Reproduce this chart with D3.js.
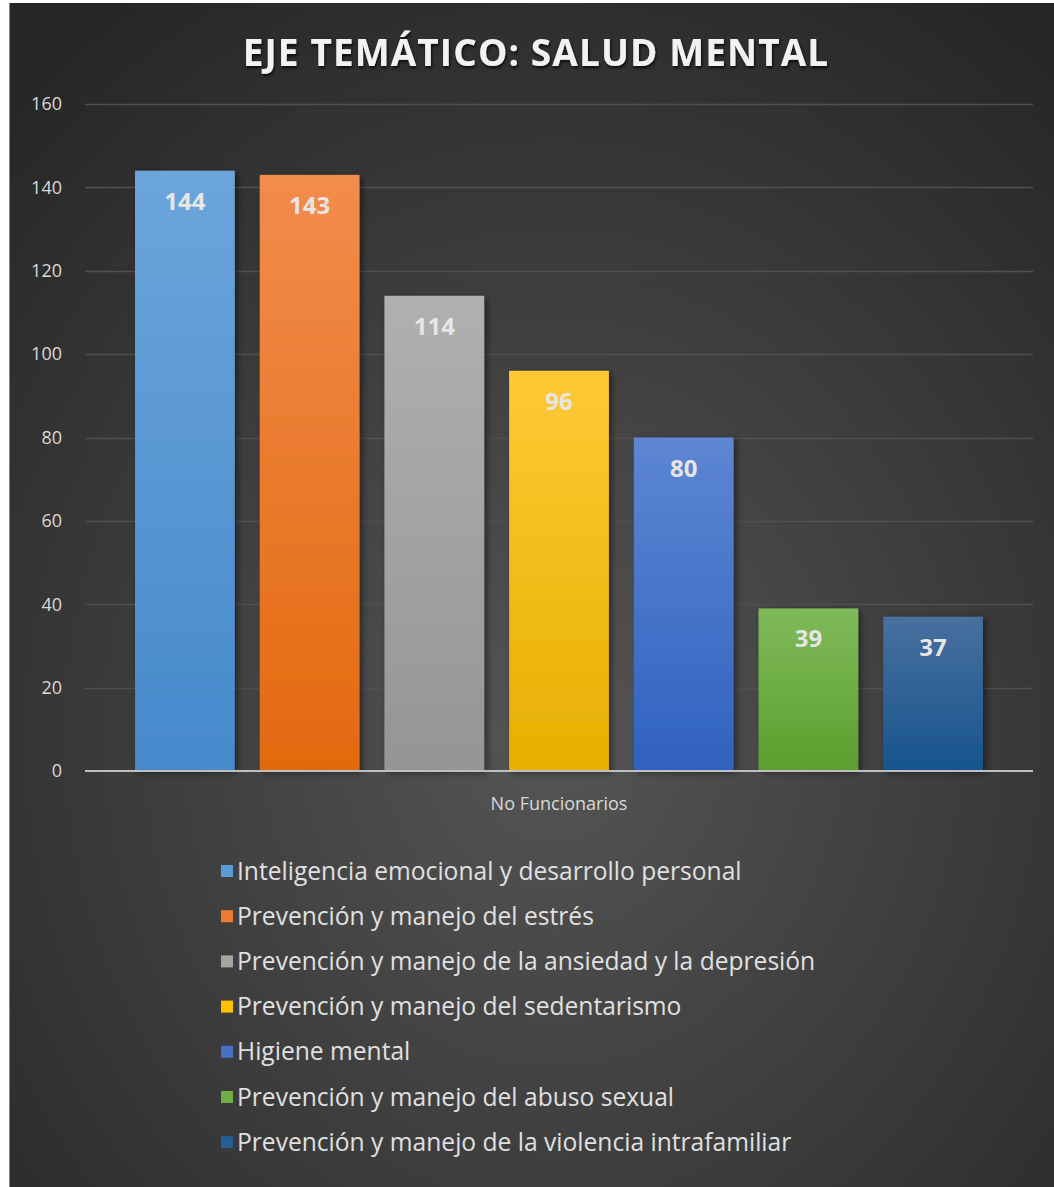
<!DOCTYPE html>
<html>
<head>
<meta charset="utf-8">
<script src="https://cdn.jsdelivr.net/npm/d3@7"></script>
<style>
  html, body { margin: 0; padding: 0; background: #ffffff; }
  svg { display: block; }
</style>
</head>
<body>
<div id="chart"></div>
<script>
// Datos del gráfico
const titulo = "EJE TEMÁTICO: SALUD MENTAL";
const categorias = ["No Funcionarios"];
const series = [
  "Inteligencia emocional y desarrollo personal",
  "Prevención y manejo del estrés",
  "Prevención y manejo de la ansiedad y la depresión",
  "Prevención y manejo del sedentarismo",
  "Higiene mental",
  "Prevención y manejo del abuso sexual",
  "Prevención y manejo de la violencia intrafamiliar"
];
const valores = [144, 143, 114, 96, 80, 39, 37];
const ticksY = [0, 20, 40, 60, 80, 100, 120, 140, 160];

// Colores (claro arriba, oscuro abajo)
const coloresTop = ["#6ca5dc", "#f28c4c", "#b0b0b0", "#ffc936", "#5d86d3", "#80ba5a", "#48709e"];
const coloresBot = ["#4689cb", "#e3690f", "#959595", "#e6b000", "#2f62c0", "#5c9e2e", "#17548e"];
const coloresLeyenda = ["#5b9bd5", "#ed7d31", "#a5a5a5", "#ffc000", "#4472c4", "#70ad47", "#255e91"];

const width = 1054, height = 1187;
const fuente = "'Open Sans', 'Noto Sans', sans-serif";

const svg = d3.select("#chart").append("svg")
  .attr("width", width)
  .attr("height", height);

const defs = svg.append("defs");

// Fondo con degradado radial
const bg = defs.append("radialGradient")
  .attr("id", "bg")
  .attr("cx", "52%").attr("cy", "62%").attr("r", "75%");
bg.append("stop").attr("offset", "0%").attr("stop-color", "#555555");
bg.append("stop").attr("offset", "100%").attr("stop-color", "#262626");

valores.forEach((v, i) => {
  const g = defs.append("linearGradient")
    .attr("id", "grad" + i)
    .attr("x1", 0).attr("y1", 0).attr("x2", 0).attr("y2", 1);
  g.append("stop").attr("offset", "0%").attr("stop-color", coloresTop[i]);
  g.append("stop").attr("offset", "100%").attr("stop-color", coloresBot[i]);
});

const sombra = defs.append("filter").attr("id", "sombra")
  .attr("x", "-20%").attr("y", "-20%").attr("width", "140%").attr("height", "140%");
sombra.append("feDropShadow")
  .attr("dx", 3).attr("dy", 2).attr("stdDeviation", 3)
  .attr("flood-color", "#000").attr("flood-opacity", 0.45);

const tituloSombra = defs.append("filter").attr("id", "tsombra");
tituloSombra.append("feDropShadow")
  .attr("dx", 1).attr("dy", 2).attr("stdDeviation", 1.5)
  .attr("flood-color", "#000").attr("flood-opacity", 0.8);

// borde izquierdo verde + fondo
svg.append("rect")
  .attr("x", 9).attr("y", 3)
  .attr("width", width - 9).attr("height", height - 3)
  .attr("fill", "url(#bg)");
svg.append("line")
  .attr("x1", 9.5).attr("x2", 9.5).attr("y1", 3).attr("y2", height)
  .attr("stroke", "#22cc22").attr("stroke-width", 1);

// Título
svg.append("text")
  .attr("x", 536).attr("y", 66)
  .attr("text-anchor", "middle")
  .attr("font-family", fuente)
  .attr("font-weight", "bold")
  .attr("font-size", 37)
  .attr("letter-spacing", 1.1)
  .attr("fill", "#f2f2f2")
  .attr("filter", "url(#tsombra)")
  .text(titulo);

// Escalas
const margin = { left: 85, right: 21, top: 104, bottom: 416 };
const y = d3.scaleLinear()
  .domain([0, 160])
  .range([height - margin.bottom, margin.top]);

const x0 = d3.scaleBand()
  .domain(categorias)
  .range([margin.left, width - margin.right])
  .paddingOuter(0.059);

const x1 = d3.scaleBand()
  .domain(series)
  .range([0, x0.bandwidth()])
  .paddingInner(0.2)
  .paddingOuter(0);

// Líneas de cuadrícula
svg.append("g")
  .selectAll("line")
  .data(ticksY.filter(d => d > 0))
  .join("line")
  .attr("x1", margin.left).attr("x2", width - margin.right)
  .attr("y1", d => Math.round(y(d)) + 0.5).attr("y2", d => Math.round(y(d)) + 0.5)
  .attr("stroke", "#505050").attr("stroke-width", 1.5);

// Eje Y
const ejeY = svg.append("g")
  .attr("transform", `translate(${margin.left - 23},0)`)
  .call(d3.axisLeft(y).tickValues(ticksY).tickSize(0).tickPadding(0));
ejeY.select(".domain").remove();
ejeY.selectAll("text")
  .attr("font-family", fuente)
  .attr("font-size", 18)
  .attr("fill", "#d9d9d9");

// Barras
const grupo = svg.append("g")
  .attr("transform", `translate(${x0(categorias[0])},0)`);

grupo.selectAll("rect")
  .data(valores)
  .join("rect")
  .attr("x", (d, i) => x1(series[i]))
  .attr("y", d => y(d))
  .attr("width", x1.bandwidth())
  .attr("height", d => y(0) - y(d))
  .attr("fill", (d, i) => `url(#grad${i})`)
  .attr("filter", "url(#sombra)");

grupo.selectAll("text")
  .data(valores)
  .join("text")
  .attr("x", (d, i) => x1(series[i]) + x1.bandwidth() / 2)
  .attr("y", d => y(d) + 39)
  .attr("text-anchor", "middle")
  .attr("font-family", fuente)
  .attr("font-weight", "bold")
  .attr("font-size", 24)
  .attr("fill", "#e6e6e6")
  .text(d => d);

// Línea del eje X
svg.append("line")
  .attr("x1", margin.left).attr("x2", width - margin.right)
  .attr("y1", y(0)).attr("y2", y(0))
  .attr("stroke", "#bfbfbf").attr("stroke-width", 2);

// Etiqueta de categoría
const ejeX = svg.append("g")
  .attr("transform", `translate(0,${y(0)})`)
  .call(d3.axisBottom(x0).tickSize(0).tickPadding(26));
ejeX.select(".domain").remove();
ejeX.selectAll("text")
  .attr("font-family", fuente)
  .attr("font-size", 18)
  .attr("fill", "#d9d9d9");

// Leyenda
const leyenda = svg.append("g")
  .attr("transform", "translate(221,871)");

const item = leyenda.selectAll("g")
  .data(series)
  .join("g")
  .attr("transform", (d, i) => `translate(0,${i * 45.2})`);

item.append("rect")
  .attr("x", 0).attr("y", -6)
  .attr("width", 12).attr("height", 12)
  .attr("fill", (d, i) => coloresLeyenda[i]);

item.append("text")
  .attr("x", 16).attr("y", 0)
  .attr("dy", "0.35em")
  .attr("font-family", fuente)
  .attr("font-size", 24.6)
  .attr("fill", "#e0e0e0")
  .text(d => d);
</script>
</body>
</html>
